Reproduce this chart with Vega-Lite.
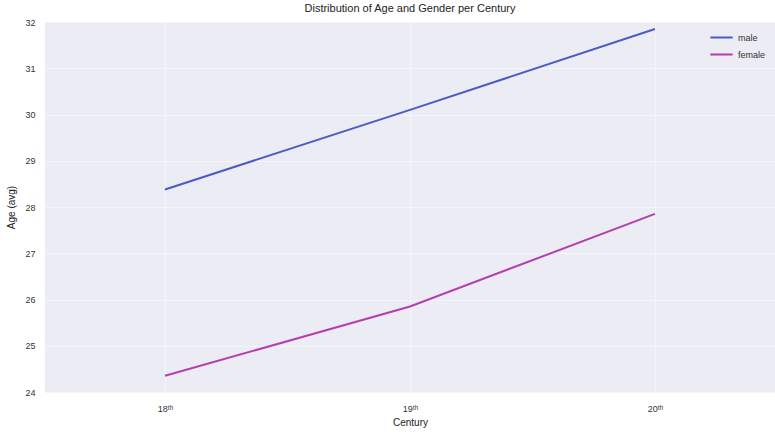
{
  "$schema": "https://vega.github.io/schema/vega-lite/v6.json",
  "width": 730,
  "height": 370,
  "autosize": {"type": "none"},
  "padding": {"left": 45, "top": 22, "right": 0, "bottom": 40},
  "background": "white",
  "title": {"text": "Distribution of Age and Gender per Century", "fontSize": 11, "font": "Liberation Sans", "fontWeight": "normal", "color": "#222", "offset": 4},
  "config": {
    "view": {"fill": "#ececf4", "stroke": null},
    "axis": {"domain": false, "ticks": false, "gridColor": "#f4f4f9", "gridWidth": 1, "labelFont": "Liberation Sans", "labelFontSize": 9, "labelColor": "#333", "titleFont": "Liberation Sans", "titleFontSize": 10, "titleFontWeight": "normal", "titleColor": "#222"}
  },
  "data": {"values": [
    {"century": "18ᵗʰ", "gender": "male", "age": 28.38},
    {"century": "19ᵗʰ", "gender": "male", "age": 30.1},
    {"century": "20ᵗʰ", "gender": "male", "age": 31.85},
    {"century": "18ᵗʰ", "gender": "female", "age": 24.35},
    {"century": "19ᵗʰ", "gender": "female", "age": 25.85},
    {"century": "20ᵗʰ", "gender": "female", "age": 27.85}
  ]},
  "mark": {"type": "line", "strokeWidth": 2},
  "encoding": {
    "x": {"field": "century", "type": "ordinal", "sort": null, "scale": {"type": "point", "padding": 0.49}, "axis": {"title": "Century", "labelAngle": 0, "labelPadding": 12, "titlePadding": 4, "grid": true}},
    "y": {"field": "age", "type": "quantitative", "scale": {"domain": [24, 32], "nice": false, "zero": false}, "axis": {"title": "Age (avg)", "values": [24,25,26,27,28,29,30,31,32], "labelPadding": 10, "titlePadding": 8, "grid": true}},
    "color": {"field": "gender", "type": "nominal", "sort": ["male", "female"], "scale": {"domain": ["male", "female"], "range": ["#4a5cc4", "#b63fae"]}, "legend": {"title": null, "orient": "top-right", "offset": 9, "symbolType": "stroke", "symbolStrokeWidth": 2, "symbolSize": 500, "clipHeight": 13, "labelFont": "Liberation Sans", "labelFontSize": 9, "labelColor": "#333", "rowPadding": 4}}
  }
}
